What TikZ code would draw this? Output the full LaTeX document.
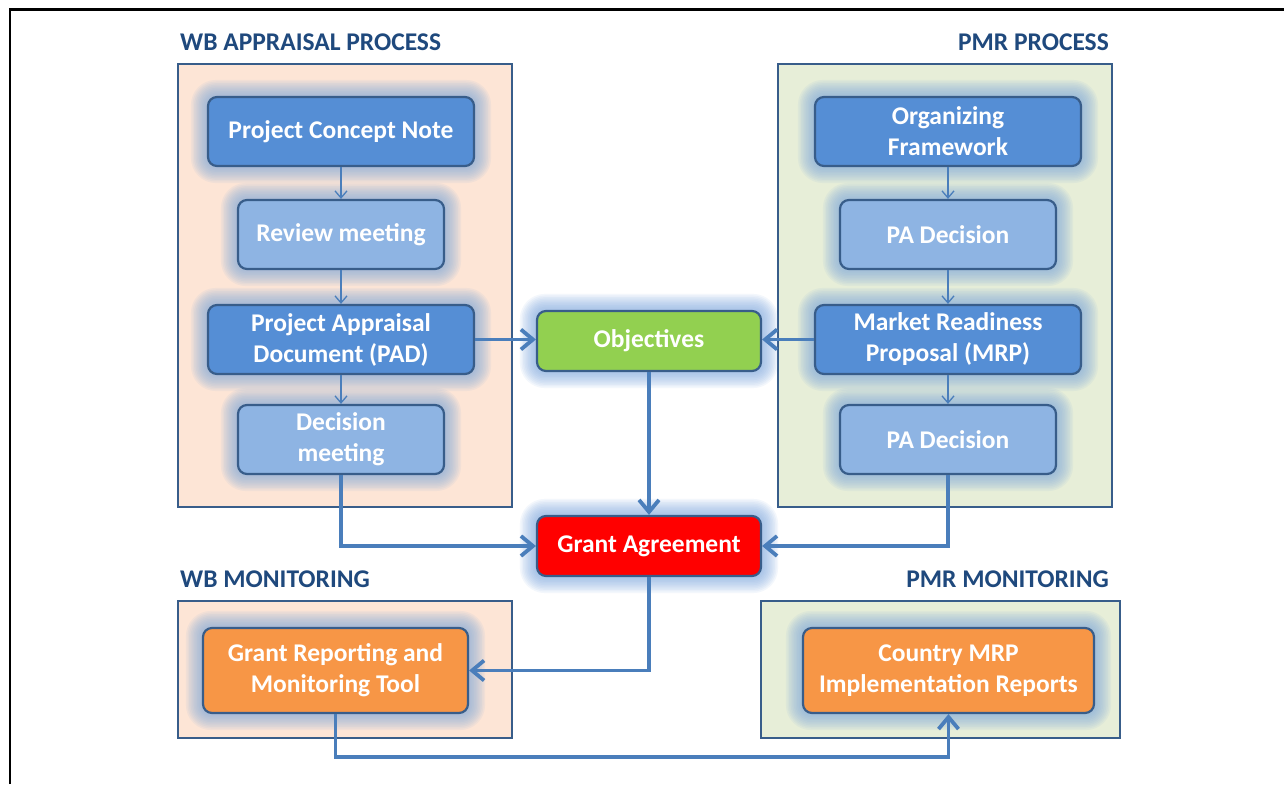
\documentclass[tikz,border=0pt]{standalone}
\usepackage{fontspec}
\setmainfont{Carlito}
\usetikzlibrary{arrows.meta,calc}
\definecolor{dblue}{HTML}{558ED5}
\definecolor{lblue}{HTML}{8EB4E3}
\definecolor{bord}{HTML}{385D8A}
\definecolor{conn}{HTML}{4A7EBB}
\definecolor{peach}{HTML}{FDE5D6}
\definecolor{pgreen}{HTML}{E7EED8}
\definecolor{titc}{HTML}{1F497D}
\definecolor{glowc}{HTML}{7FA9E0}
\definecolor{objg}{HTML}{92D050}
\definecolor{gred}{HTML}{FF0000}
\definecolor{orng}{HTML}{F79646}
\pgfdeclarelayer{bg}
\pgfdeclarelayer{glowl}
\pgfsetlayers{bg,glowl,main}
\newcommand{\nodefont}{\fontsize{25.5}{31}\selectfont\bfseries}
\begin{document}
\begin{tikzpicture}[x=1pt,y=1pt,
  nd/.style={draw=bord,line width=2.2pt,rounded corners=9pt,inner sep=0pt,align=center,text=white,font=\nodefont},
  wide/.style={minimum width=266pt,minimum height=69pt},
  narrowl/.style={minimum width=206pt,minimum height=69pt},
  narrowr/.style={minimum width=216pt,minimum height=69pt},
  mid/.style={minimum width=224pt,minimum height=60pt},
  mon/.style={minimum height=85pt},
  bgbox/.style={draw=bord,line width=2pt},
  ttl/.style={text=titc,font=\nodefont,inner sep=0pt},
  thin/.style={draw=conn,line width=1.3pt,-{Straight Barb[length=7pt,width=12pt]}},
  thick/.style={draw=conn,line width=3.8pt,-{Straight Barb[length=12pt,width=20pt]}}]
\useasboundingbox (0,0) rectangle (1284,784);
\draw[line width=2.5pt] (10,0) -- (10,774.5) -- (1284,774.5);

% titles
\node[ttl,anchor=base west] (t1) at (180,733) {WB APPRAISAL PROCESS};
\node[ttl,anchor=base east] (t2) at (1109,733) {PMR PROCESS};
\node[ttl,anchor=base west] (t3) at (180,196) {WB MONITORING};
\node[ttl,anchor=base east] (t4) at (1109,196) {PMR MONITORING};

% background boxes
\begin{pgfonlayer}{bg}
\fill[white] (0,0) rectangle (1284,784);
\draw[bgbox,fill=peach] (178,277) rectangle (512,720);
\draw[bgbox,fill=pgreen] (778,277) rectangle (1112,720);
\draw[bgbox,fill=peach] (178,46) rectangle (512,183);
\draw[bgbox,fill=pgreen] (761,46) rectangle (1120,183);
\end{pgfonlayer}

% nodes
\node[nd,wide,fill=dblue] (pcn) at (341,652.5) {Project Concept Note};
\node[nd,narrowl,fill=lblue] (rev) at (341,549.5) {Review meeting};
\node[nd,wide,fill=dblue] (pad) at (341,444.5) {Project Appraisal\\Document (PAD)};
\node[nd,narrowl,fill=lblue] (dec) at (341,344.5) {Decision\\meeting};
\node[nd,wide,fill=dblue] (org) at (948,652.5) {Organizing\\Framework};
\node[nd,narrowr,fill=lblue] (pa1) at (948,549.5) {PA Decision};
\node[nd,wide,fill=dblue] (mrp) at (948,444.5) {Market Readiness\\Proposal (MRP)};
\node[nd,narrowr,fill=lblue] (pa2) at (948,344.5) {PA Decision};
\node[nd,mid,fill=objg] (obj) at (649,443) {Objectives};
\node[nd,mid,fill=gred] (ga) at (649,238) {Grant Agreement};
\node[nd,mon,minimum width=265pt,fill=orng] (grt) at (335.5,113.5) {Grant Reporting and\\Monitoring Tool};
\node[nd,mon,minimum width=291pt,fill=orng] (cty) at (948.5,113.5) {Country MRP\\Implementation Reports};

% glow
\begin{pgfonlayer}{glowl}
\foreach \n in {pcn,rev,pad,dec,org,pa1,mrp,pa2,obj,ga,grt,cty}{
  \foreach \i in {1,...,10}{
    \pgfmathsetmacro\rr{9+\i*1.6}
    \pgfmathsetmacro\dd{\i*1.6}
    \fill[glowc,opacity=0.09,rounded corners=\rr pt]
      ($(\n.south west)+(-\dd,-\dd)$) rectangle ($(\n.north east)+(\dd,\dd)$);
  }}
\end{pgfonlayer}

% connectors
\draw[thin] (pcn) -- (rev);
\draw[thin] (rev) -- (pad);
\draw[thin] (pad) -- (dec);
\draw[thin] (org) -- (pa1);
\draw[thin] (pa1) -- (mrp);
\draw[thin] (mrp) -- (pa2);
\draw[thick] (pad.east) -- (pad.east -| obj.west);
\draw[thick] (mrp.west) -- (mrp.west -| obj.east);
\draw[thick] (obj) -- (ga);
\draw[thick] (dec.south) |- (ga.west);
\draw[thick] (pa2.south) |- (ga.east);
\draw[thick] (ga.south) |- (grt.east);
\coordinate (lowc) at (grt.south |- 0,27);
\draw[thick] (grt.south) -- (lowc) -| (cty.south);
\end{tikzpicture}
\end{document}
